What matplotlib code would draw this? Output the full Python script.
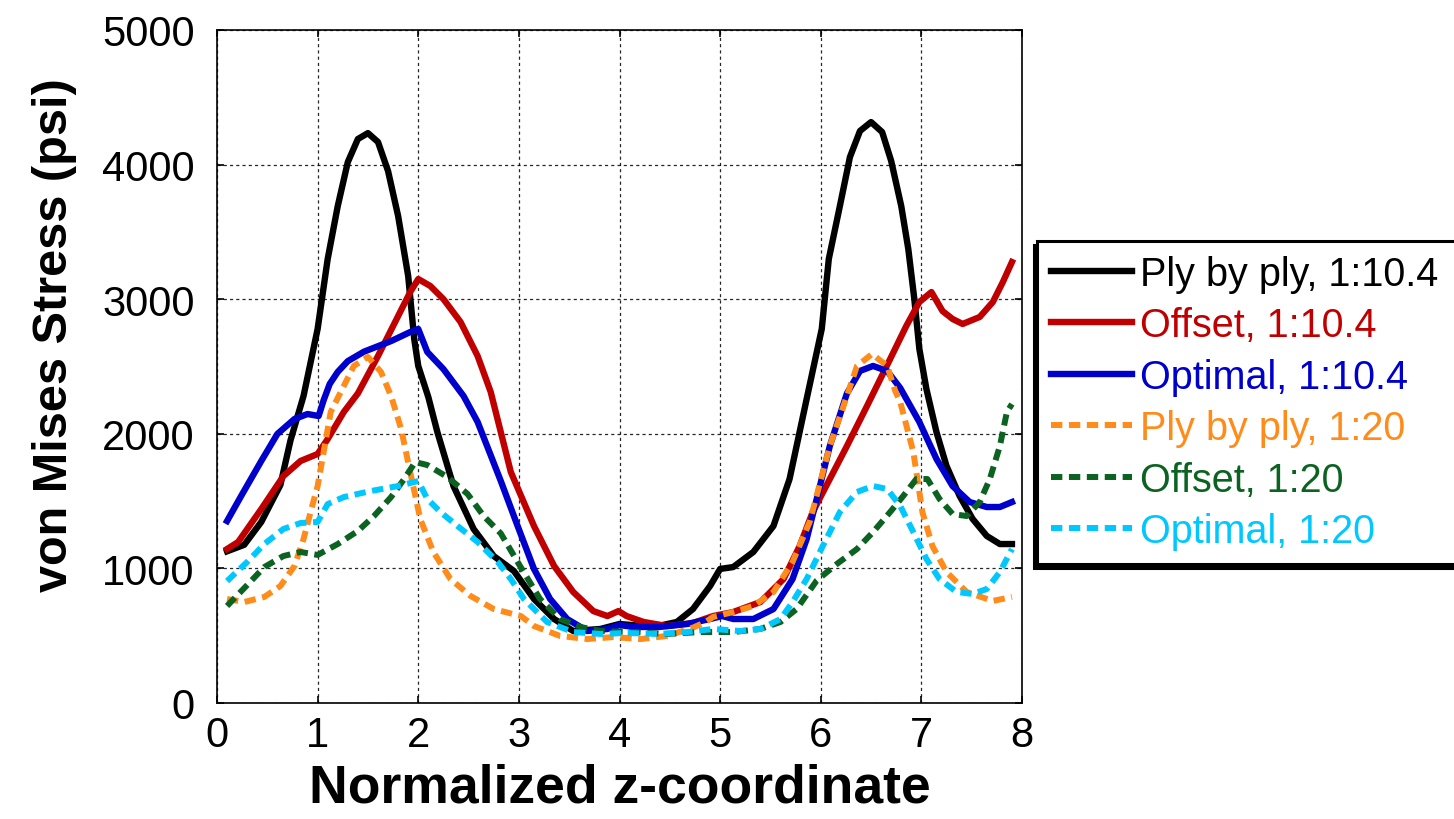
import matplotlib
matplotlib.use("Agg")
import matplotlib.pyplot as plt

plt.rcParams['font.family'] = ['Liberation Sans', 'DejaVu Sans']

# ---- data ----
x_ply104 = [0.1, 0.27, 0.44, 0.63, 0.73, 0.86, 1.0, 1.1, 1.2, 1.3, 1.4, 1.5, 1.6, 1.7, 1.8, 1.9, 1.96, 2.0,
            2.1, 2.19, 2.35, 2.55, 2.75, 2.95, 3.15, 3.35, 3.54, 3.81, 4.0, 4.34, 4.57, 4.73, 4.9, 5.0,
            5.13, 5.33, 5.53, 5.69, 5.86, 6.01, 6.08, 6.19, 6.29, 6.39, 6.5, 6.61, 6.7, 6.8, 6.87,
            6.93, 6.98, 7.05, 7.15, 7.25, 7.38, 7.51, 7.65, 7.78, 7.9]
y_ply104 = [1127, 1175, 1345, 1620, 1950, 2281, 2779, 3299, 3692, 4019, 4190, 4234, 4168, 3952, 3618, 3172, 2704, 2504,
            2273, 2013, 1612, 1293, 1092, 981, 773, 624, 535, 550, 587, 565, 602, 698, 869, 996,
            1010, 1122, 1315, 1664, 2259, 2779, 3299, 3692, 4056, 4250, 4316, 4242, 4027, 3692, 3373,
            3001, 2630, 2333, 2013, 1761, 1538, 1367, 1241, 1181, 1181]

x_off104 = [0.1, 0.21, 0.44, 0.66, 0.83, 1.0, 1.1, 1.26, 1.4, 1.6, 1.8, 1.92, 2.0, 2.12, 2.25, 2.42, 2.59,
            2.72, 2.92, 3.15, 3.35, 3.54, 3.74, 3.88, 3.99, 4.07, 4.24, 4.47, 4.73, 4.93, 5.13, 5.4,
            5.63, 5.79, 5.92, 6.09, 6.26, 6.46, 6.69, 6.85, 6.98, 7.1, 7.21, 7.31, 7.41, 7.58, 7.71,
            7.81, 7.9]
y_off104 = [1144, 1196, 1441, 1686, 1798, 1850, 1961, 2162, 2300, 2578, 2875, 3053, 3150, 3098, 3001, 2831, 2578,
            2311, 1716, 1315, 1018, 825, 683, 646, 683, 646, 602, 572, 594, 646, 676, 750,
            921, 1166, 1419, 1664, 1909, 2207, 2556, 2801, 2979, 3053, 2912, 2853, 2816, 2868, 2979,
            3128, 3276]

x_opt104 = [0.1, 0.24, 0.44, 0.6, 0.77, 0.9, 1.01, 1.06, 1.12, 1.2, 1.3, 1.46, 1.73, 1.92, 2.0, 2.09, 2.25, 2.45,
            2.59, 2.82, 2.98, 3.15, 3.31, 3.48, 3.68, 3.88, 4.0, 4.14, 4.4, 4.67, 4.9, 5.02, 5.13, 5.33,
            5.53, 5.72, 5.86, 5.96, 6.09, 6.26, 6.39, 6.52, 6.66, 6.79, 6.98, 7.15, 7.31, 7.48, 7.65,
            7.78, 7.9]
y_opt104 = [1352, 1538, 1798, 1999, 2110, 2147, 2132, 2250, 2370, 2460, 2540, 2610, 2689, 2756, 2779, 2608, 2481, 2281,
            2088, 1650, 1330, 996, 773, 624, 535, 550, 579, 565, 565, 587, 624, 646, 624, 624,
            698, 921, 1218, 1516, 1909, 2300, 2467, 2504, 2467, 2340, 2088, 1813, 1612, 1493, 1456,
            1456, 1493]

x_ply20 = [0.1, 0.27, 0.47, 0.63, 0.77, 0.86, 0.93, 1.0, 1.06, 1.13, 1.23, 1.36, 1.5, 1.63, 1.73, 1.83, 1.92,
           2.02, 2.15, 2.32, 2.52, 2.75, 3.02, 3.15, 3.41, 3.68, 3.94, 4.21, 4.47, 4.73, 4.85, 4.93, 5.13,
           5.33, 5.53, 5.72, 5.89, 6.09, 6.26, 6.36, 6.51, 6.66, 6.74, 6.79, 6.92, 7.01, 7.11, 7.25,
           7.45, 7.71, 7.9]
y_ply20 = [773, 750, 788, 869, 1018, 1218, 1419, 1612, 1865, 2162, 2311, 2504, 2571, 2459, 2281, 2036, 1716,
           1367, 1122, 921, 795, 698, 646, 572, 498, 475, 490, 475, 498, 560, 600, 639, 676,
           721, 825, 1048, 1345, 1909, 2281, 2504, 2593, 2504, 2318, 2236, 1865, 1419, 1166, 973,
           825, 758, 788]

x_off20 = [0.1, 0.31, 0.47, 0.66, 0.83, 1.0, 1.2, 1.4, 1.56, 1.73, 1.86, 1.97, 2.09, 2.29, 2.49, 2.65, 2.82,
           3.02, 3.21, 3.41, 3.61, 3.81, 4.14, 4.47, 4.8, 5.13, 5.4, 5.6, 5.76, 5.96, 6.16, 6.36, 6.52,
           6.69, 6.82, 6.95, 7.06, 7.18, 7.31, 7.45, 7.58, 7.68, 7.78, 7.85, 7.9]
y_off20 = [721, 884, 1010, 1092, 1122, 1100, 1181, 1278, 1389, 1530, 1664, 1790, 1768, 1679, 1553, 1389, 1260,
           1007, 773, 624, 565, 535, 527, 513, 527, 527, 550, 602, 698, 910, 1033, 1144, 1270,
           1419, 1538, 1664, 1664, 1516, 1404, 1389, 1493, 1664, 1909, 2162, 2221]

x_opt20 = [0.1, 0.31, 0.47, 0.66, 0.83, 1.0, 1.1, 1.26, 1.53, 1.8, 2.0, 2.09, 2.22, 2.39, 2.59, 2.79, 2.92,
           3.05, 3.28, 3.54, 3.81, 4.07, 4.4, 4.67, 4.93, 5.2, 5.4, 5.6, 5.72, 5.86, 6.02, 6.19, 6.36,
           6.52, 6.66, 6.79, 6.92, 7.05, 7.18, 7.35, 7.51, 7.65, 7.78, 7.9]
y_opt20 = [906, 1055, 1181, 1293, 1337, 1345, 1478, 1530, 1575, 1612, 1649, 1516, 1419, 1315, 1196, 1048, 921,
           773, 602, 527, 513, 520, 513, 527, 550, 535, 550, 624, 750, 921, 1166, 1419, 1568,
           1612, 1590, 1464, 1270, 1070, 921, 825, 810, 847, 973, 1144]

labels = ["Ply by ply, 1:10.4", "Offset, 1:10.4", "Optimal, 1:10.4",
          "Ply by ply, 1:20", "Offset, 1:20", "Optimal, 1:20"]
colors = ["#000000", "#C00000", "#0000CC", "#FF8C1A", "#0B6221", "#00C8FF"]

x_ticks = [0, 1, 2, 3, 4, 5, 6, 7, 8]
y_ticks = [0, 1000, 2000, 3000, 4000, 5000]

# ---- figure ----
fig = plt.figure(figsize=(14.54, 8.2), dpi=100)
ax = fig.add_axes([217/1454, 1 - 704/820, (1022 - 217)/1454, (704 - 31)/820])

series = [(x_ply104, y_ply104), (x_off104, y_off104), (x_opt104, y_opt104),
          (x_ply20, y_ply20), (x_off20, y_off20), (x_opt20, y_opt20)]
for i, ((xs, ys), lab, col) in enumerate(zip(series, labels, colors)):
    if i < 3:
        ax.plot(xs, ys, color=col, lw=4.6, label=lab, solid_joinstyle='round', zorder=3)
    else:
        ax.plot(xs, ys, color=col, lw=4.3, label=lab, linestyle=(0, (1.9, 1.1)), zorder=3)

ax.set_xlim(0, 8)
ax.set_ylim(0, 5000)
ax.set_xticks(x_ticks)
ax.set_yticks(y_ticks)
ax.grid(True, color='black', linestyle=(0, (2.5, 2.5)), linewidth=0.9, alpha=0.85)
ax.set_axisbelow(True)
ax.tick_params(direction='in', length=5, width=1.2, top=True, right=True,
               labelsize=30, pad=9)
ax.tick_params(axis='y', pad=16)
for s in ax.spines.values():
    s.set_linewidth(1.2)

ax.set_xlabel("Normalized z-coordinate", fontsize=38.5, fontweight='bold')
ax.set_ylabel("von Mises Stress (psi)", fontsize=35, fontweight='bold')
ax.xaxis.set_label_coords(0.5, -0.089)
ax.yaxis.set_label_coords(-0.174, 0.548)

leg = ax.legend(loc='upper left', bbox_to_anchor=(1037/1454, 1 - 242/820, 0.3, 0.0),
                bbox_transform=fig.transFigure, borderaxespad=0, fontsize=28.5, mode='expand',
                labelcolor='linecolor', frameon=True, fancybox=False,
                handlelength=2.05, handletextpad=0.2, labelspacing=0.34,
                borderpad=0.35,
                shadow={'ox': -2, 'oy': -3, 'color': 'black', 'alpha': 1.0})
leg.get_frame().set_edgecolor('black')
leg.get_frame().set_linewidth(2.2)
leg.get_frame().set_facecolor('white')
leg.get_frame().set_alpha(1.0)

fig.savefig("out.png", dpi=100)
